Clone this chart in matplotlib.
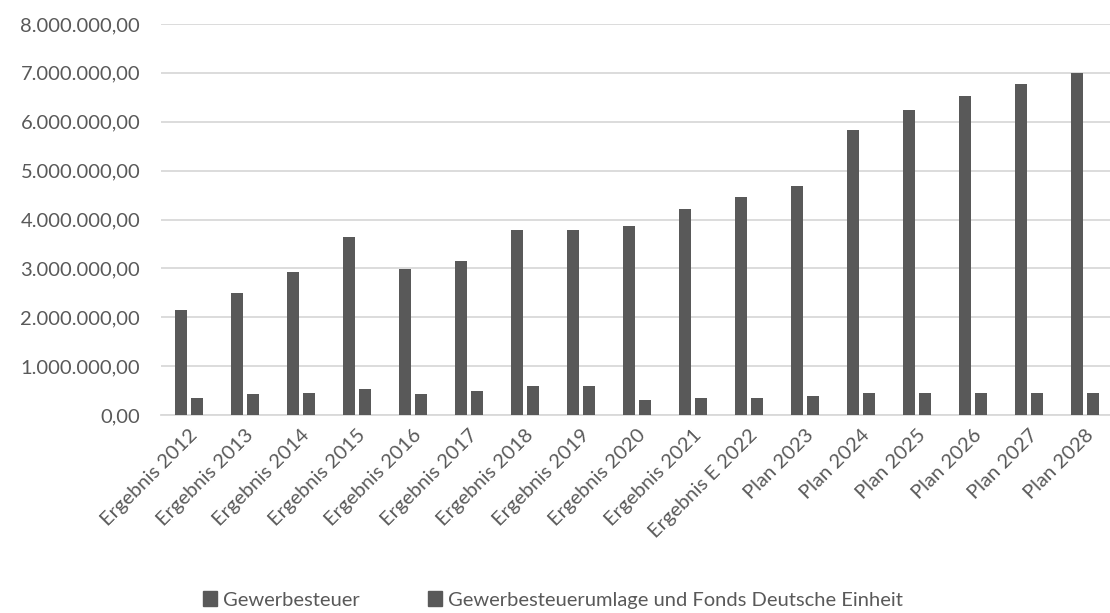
import matplotlib
matplotlib.use("Agg")
import matplotlib.pyplot as plt
from matplotlib.ticker import FuncFormatter, MultipleLocator
from matplotlib.patches import Patch
import numpy as np

categories = [
    "Ergebnis 2012", "Ergebnis 2013", "Ergebnis 2014", "Ergebnis 2015",
    "Ergebnis 2016", "Ergebnis 2017", "Ergebnis 2018", "Ergebnis 2019",
    "Ergebnis 2020", "Ergebnis 2021", "Ergebnis E 2022", "Plan 2023",
    "Plan 2024", "Plan 2025", "Plan 2026", "Plan 2027", "Plan 2028",
]
gewerbesteuer = [
    2140000, 2500000, 2920000, 3650000, 2990000, 3160000, 3780000, 3780000,
    3860000, 4220000, 4470000, 4680000, 5830000, 6240000, 6530000, 6770000,
    6990000,
]
umlage = [
    340000, 430000, 460000, 540000, 430000, 500000, 590000, 590000,
    310000, 340000, 340000, 390000, 460000, 460000, 460000, 460000,
    460000,
]
series_names = ["Gewerbesteuer", "Gewerbesteuerumlage und Fonds Deutsche Einheit"]

bar_color = "#595959"
text_color = "#595959"
grid_color = "#d9d9d9"
font = ["Lato", "DejaVu Sans"]

W, H = 1110, 613
fig = plt.figure(figsize=(W / 100, H / 100), dpi=100)
ax = fig.add_axes([161 / W, (H - 415) / H, 952 / W, (415 - 24) / H])

x = np.arange(len(categories))
bw = 0.214
off = 0.143
ax.bar(x - off, gewerbesteuer, width=bw, color=bar_color, zorder=3)
ax.bar(x + off, umlage, width=bw, color=bar_color, zorder=3)

ax.set_xlim(-0.5, len(categories) - 0.5)
ax.set_ylim(0, 8000000)
ax.yaxis.set_major_locator(MultipleLocator(1000000))


def de_format(v, _pos):
    s = f"{v:,.2f}"
    return s.replace(",", "X").replace(".", ",").replace("X", ".")


ax.yaxis.set_major_formatter(FuncFormatter(de_format))
ax.grid(axis="y", color=grid_color, linewidth=1.3, zorder=0)
for side in ["top", "right", "left"]:
    ax.spines[side].set_visible(False)
ax.spines["bottom"].set_color(grid_color)
ax.spines["bottom"].set_linewidth(1.3)
ax.tick_params(axis="both", length=0, colors=text_color, labelsize=14.5)
ax.tick_params(axis="y", pad=15)
ax.tick_params(axis="x", pad=8)
ax.set_xticks(x)
ax.set_xticklabels(categories, rotation=45, ha="right", rotation_mode="anchor",
                   fontfamily=font)
for lbl in ax.get_yticklabels():
    lbl.set_fontfamily(font)

handles = [Patch(color=bar_color, label=n) for n in series_names]
fig.legend(handles=handles, loc="center", bbox_to_anchor=(0.498, 13 / H),
           ncol=2, frameon=False, handlelength=0.7, handleheight=0.7,
           handletextpad=0.3, columnspacing=3.4,
           prop={"family": font, "size": 14.5}, labelcolor=text_color)

fig.savefig("out.png", dpi=100)
